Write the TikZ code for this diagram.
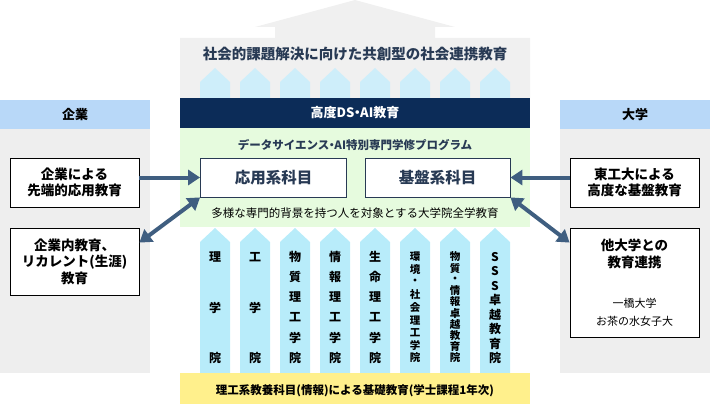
\documentclass[tikz,border=0pt]{standalone}
\usepackage{fontspec}
\setmainfont{Noto Sans CJK JP}
\usetikzlibrary{arrows.meta,calc}
\definecolor{cPanel}{RGB}{238,238,238}
\definecolor{cRoof}{RGB}{240,240,240}
\definecolor{cHead}{RGB}{184,216,248}
\definecolor{cNavy}{RGB}{12,44,88}
\definecolor{cGreen}{RGB}{230,251,222}
\definecolor{cPillar}{RGB}{184,236,250}
\definecolor{cPale}{RGB}{206,238,250}
\definecolor{cYellow}{RGB}{255,240,140}
\definecolor{cSlate}{RGB}{40,58,84}
\definecolor{cArrow}{RGB}{63,94,128}
\newcommand\fsz[2]{\fontsize{#1}{#2}\selectfont}
\newcommand\nakaguro{\kern-0.28em・\kern-0.28em}
\tikzset{
  panelbox/.style={draw=black, line width=0.8pt, fill=white, minimum width=129pt, inner sep=0pt, align=center, font=\bfseries\fsz{13.5}{16.5}},
  progbox/.style={draw=cSlate, line width=0.8pt, fill=white, minimum width=146pt, minimum height=39pt, inner sep=0pt, text=cSlate, font=\bfseries\fsz{15.5}{18}},
  headtext/.style={font=\bfseries\fsz{13}{15}, inner sep=0pt},
  plabel/.style={font=\bfseries\fsz{12}{12}, inner sep=0pt},
  plabelsmall/.style={font=\bfseries\fsz{10.5}{10.5}, inner sep=0pt},
  arrowtip/.tip={Triangle[length=12pt,width=15pt]},
  link/.style={draw=cArrow, line width=4pt, -arrowtip},
  duallink/.style={draw=cArrow, line width=4pt, arrowtip-arrowtip},
}
\newcommand\pillarlabel[5]{%
  \foreach \c [count=\i] in {#3} {\node[#5] (#4-\i) at (#1,{257+(\i-1)*101/#2}) {\c};}}
\begin{document}
\begin{tikzpicture}[x=1pt,y=-1pt]
\useasboundingbox (0,0) rectangle (710,404);
% side panels
\fill[cPanel] (0,100) rectangle (150,373);
\fill[cHead] (0,100) rectangle (150,129);
\node[headtext] (kigyo) at (75,114.5) {企業};
\fill[cPanel] (560,100) rectangle (710,373);
\fill[cHead] (560,100) rectangle (710,129);
\node[headtext] (daigaku) at (635,114.5) {大学};
% roof
\fill[cRoof] (180,98) -- (180,38) -- (275,38) -- (275,27) -- (255,27) -- (355,0) -- (455,27) -- (435,27) -- (435,38) -- (530,38) -- (530,98) -- cycle;
\foreach \k in {0,...,7} {
  \fill[cPale] ({200+40*\k},98) -- ({200+40*\k},82) -- ({215+40*\k},68) -- ({230+40*\k},82) -- ({230+40*\k},98) -- cycle;
}
\node[text=cSlate, font=\bfseries\fsz{14.5}{16}, inner sep=0pt] (title) at (355,54) {社会的課題解決に向けた共創型の社会連携教育};
% navy band
\fill[cNavy] (180,98) rectangle (530,128);
\node[text=white, headtext] (dsai) at (355,113) {高度DS\nakaguro AI教育};
% green program area
\fill[cGreen] (180,128) rectangle (530,227);
\node[text=cSlate, font=\bfseries\fsz{11.5}{13}, inner sep=0pt] (prog) at (355,145) {データサイエンス\nakaguro AI特別専門学修プログラム};
\node[progbox] (ouyou) at (273.5,177.5) {応用系科目};
\node[progbox, minimum width=145pt] (kiban) at (437.5,177.5) {基盤系科目};
\node[font=\fsz{11.5}{13}, inner sep=0pt] (tayo) at (355,213) {多様な専門的背景を持つ人を対象とする大学院全学教育};
% pillars
\foreach \k in {0,...,7} {
  \fill[cPillar] ({200+40*\k},373) -- ({200+40*\k},242) -- ({215+40*\k},228) -- ({230+40*\k},242) -- ({230+40*\k},373) -- cycle;
}
\pillarlabel{215}{2}{理,学,院}{p1}{plabel}
\pillarlabel{255}{2}{工,学,院}{p2}{plabel}
\pillarlabel{295}{5}{物,質,理,工,学,院}{p3}{plabel}
\pillarlabel{335}{5}{情,報,理,工,学,院}{p4}{plabel}
\pillarlabel{375}{5}{生,命,理,工,学,院}{p5}{plabel}
\pillarlabel{415}{8}{環,境,・,社,会,理,工,学,院}{p6}{plabelsmall}
\pillarlabel{455}{9}{物,質,・,情,報,卓,越,教,育,院}{p7}{plabelsmall}
\pillarlabel{495}{7}{S,S,S,卓,越,教,育,院}{p8}{plabel}
% yellow base
\fill[cYellow] (180,373) rectangle (530,404);
\node[font=\bfseries\fsz{11.5}{13}, inner sep=0pt] (base) at (355,390.5) {理工系教養科目(情報)による基礎教育(学士課程1年次)};
% left boxes
\node[panelbox, minimum height=49pt] (e1) at (74.5,182.5) {企業による\\先端的応用教育};
\node[panelbox, minimum height=67pt] (e2) at (74.5,261.5) {企業内教育、\\リカレント(生涯)\\教育};
% right boxes
\node[panelbox, minimum height=49pt] (u1) at (634.5,182.5) {東工大による\\高度な基盤教育};
\node[panelbox, minimum height=109pt] (u2) at (634.5,282.5) {};
\node[font=\bfseries\fsz{13.5}{17.5}, align=center, inner sep=0pt] (u2a) at (634.5,254) {他大学との\\教育連携};
\node[font=\fsz{11}{18}, align=center, inner sep=0pt] (u2b) at (634.5,312) {一橋大学\\お茶の水女子大};
% connectors
\draw[link] (e1.east |- ouyou.west) -- (ouyou.west);
\draw[duallink] ([yshift=-15pt]e2.north east) -- (ouyou.south west);
\draw[link] (u1.west |- kiban.east) -- (kiban.east);
\draw[duallink] (kiban.south east) -- ([yshift=-15pt]u2.north west);
\end{tikzpicture}
\end{document}
